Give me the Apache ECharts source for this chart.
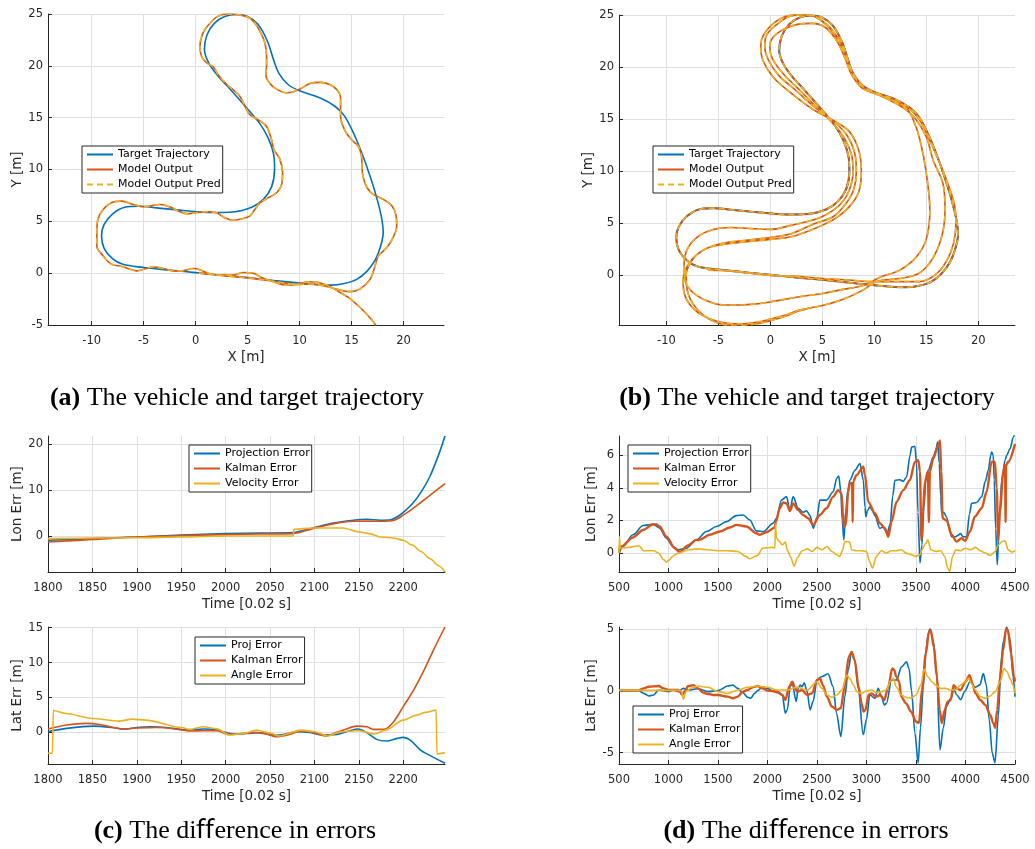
<!DOCTYPE html>
<html>
<head>
<meta charset="utf-8">
<script src="https://cdn.jsdelivr.net/npm/echarts@6/dist/echarts.min.js"></script>
<style>
  html, body { margin: 0; padding: 0; background: #fff; }
  #chart { width: 1035px; height: 849px; }
</style>
</head>
<body>
<div id="chart"></div>
<script>
// ---- tick values ----
const trajTicksX = [-10, -5, 0, 5, 10, 15, 20];
const trajTicksYA = [-5, 0, 5, 10, 15, 20, 25];
const trajTicksYB = [0, 5, 10, 15, 20, 25];
const timeTicksC = [1800, 1850, 1900, 1950, 2000, 2050, 2100, 2150, 2200];
const timeTicksD = [500, 1000, 1500, 2000, 2500, 3000, 3500, 4000, 4500];
const lonTicksC = [0, 10, 20];
const latTicksC = [0, 5, 10, 15];
const lonTicksD = [0, 2, 4, 6];
const latTicksD = [-5, 0, 5];

// ---- trajectories [x, y] in metres ----
const targetPath = [
  [-2.8,0.32],[0,0.05],[2.5,-0.2],[5,-0.42],[7.5,-0.7],[10,-0.96],[12,-1.12],[13,-1.15],[14.3,-1.0],
  [15.5,-0.6],[16.5,0.2],[17.3,1.3],[17.8,2.6],[18.05,3.9],[17.9,5.3],[17.5,7.0],[16.9,9.0],[16.1,11.3],
  [15.2,13.5],[14.3,15.2],[13.4,16.1],[12.0,16.9],[10.0,17.6],[8.9,18.2],[8.0,19.3],[7.5,20.6],[6.9,22.4],
  [6.0,24.0],[5.0,24.75],[3.95,24.95],[2.8,24.75],[1.8,24.1],[1.1,23.0],[0.85,21.6],[1.2,20.4],[2.0,19.2],
  [3.0,18.1],[4.6,16.3],[6.2,14.4],[7.0,13.0],[7.5,11.5],[7.6,10.0],[7.3,8.3],[6.5,7.1],[5.4,6.35],
  [3.6,5.9],[1.5,5.85],[-1.2,6.05],[-3.75,6.3],[-5.4,6.45],[-6.8,6.35],[-8.0,5.7],[-8.8,4.7],[-9.05,3.6],
  [-8.8,2.4],[-8.0,1.4],[-7.0,0.85],[-5.0,0.55],[-2.8,0.32]
];

const modelOutA = [
  [0.3,0.0],[2.5,-0.22],[5.0,-0.45],[7.0,-0.7],[8.5,-0.95],[9.8,-1.1],[11.0,-1.05],[12.3,-1.2],[13.6,-1.55],
  [14.85,-1.78],[15.8,-1.54],[16.8,-0.58],[17.26,0.7],[17.6,1.67],[18.4,2.47],[19.0,3.43],[19.35,4.55],
  [19.3,5.5],[18.9,6.47],[18.1,7.1],[17.1,7.6],[16.5,8.24],[16.1,9.36],[16.0,10.6],[15.95,11.4],[15.65,12.24],
  [15.0,12.9],[14.4,13.7],[13.95,15.1],[13.95,16.1],[13.95,16.9],[13.6,17.7],[12.9,18.2],[12.0,18.4],
  [11.0,18.3],[10.2,17.85],[9.4,17.5],[8.75,17.4],[7.8,17.75],[7.15,18.3],[6.77,19.1],[6.83,20.1],
  [6.83,20.9],[6.67,22.2],[6.3,23.1],[5.87,23.9],[5.2,24.6],[4.27,24.9],[3.0,25.0],[2.0,24.7],[1.4,24.1],
  [0.9,23.5],[0.58,22.8],[0.42,21.9],[0.58,20.9],[1.06,20.3],[1.7,19.9],[2.2,19.1],[3.0,18.2],[3.6,17.7],
  [4.27,17.05],[4.75,16.1],[5.2,15.3],[6.0,14.8],[6.8,14.2],[7.3,12.9],[7.55,11.9],[8.1,11.0],[8.37,9.7],
  [8.28,8.56],[7.8,7.76],[6.83,7.18],[6.2,6.8],[5.7,6.15],[5.2,5.5],[4.27,5.2],[3.6,5.1],[2.8,5.35],
  [2.0,5.83],[1.06,5.93],[0.1,5.83],[-0.87,5.74],[-1.67,6.0],[-2.5,6.4],[-3.4,6.63],[-4.4,6.47],[-5.0,6.4],
  [-6.0,6.63],[-7.1,6.95],[-8.1,6.8],[-8.9,6.15],[-9.4,5.2],[-9.5,3.9],[-9.5,2.6],[-8.9,1.67],[-8.1,0.87],
  [-7.1,0.64],[-6.3,0.38],[-5.7,0.22],[-5.0,0.38],[-4.07,0.6],[-3.1,0.45],[-2.15,0.22],[-1.35,0.22],
  [-0.22,0.45],[0.42,0.32],[1.2,0.0],[2.3,-0.19],[3.6,-0.19],[4.6,0.06],[5.55,0.0],[6.35,-0.42],[7.5,-0.83],
  [8.75,-1.15],[9.9,-1.06],[10.8,-0.83],[11.8,-0.9],[12.9,-1.28],[13.9,-1.86],[14.7,-2.34],[15.65,-3.14],
  [16.45,-3.94],[17.26,-4.9],[17.4,-5.3]
];
const modelPredA = modelOutA;

const modelOutB = [
  [-6.0,0.5],[-4.0,0.45],[-2.0,0.25],[0,0.05],[2.5,-0.2],[5,-0.42],[7.5,-0.7],[10,-0.96],[12,-1.12],[13,-1.15],
  [14.3,-1.0],[15.5,-0.6],[16.5,0.2],[17.3,1.3],[17.8,2.6],[18.05,3.9],[17.9,5.3],[17.5,7.0],[16.9,9.0],
  [16.1,11.3],[15.2,13.5],[14.3,15.2],[13.4,16.1],[12.0,16.9],[10.0,17.6],[8.9,18.2],[8.0,19.3],[7.5,20.6],
  [6.9,22.4],[6.0,24.0],[5.0,24.75],[3.95,24.95],[2.8,24.75],[1.8,24.1],[1.1,23.0],[0.85,21.6],[1.2,20.4],
  [2.0,19.2],[3.0,18.1],[4.6,16.3],[6.2,14.4],[7.0,13.0],[7.5,11.5],[7.6,10.0],[7.3,8.3],[6.5,7.1],[5.4,6.35],
  [3.6,5.9],[1.5,5.85],[-1.2,6.05],[-3.75,6.3],[-5.4,6.45],[-6.8,6.35],[-8.0,5.7],[-8.8,4.7],[-9.05,3.6],
  [-8.8,2.4],[-8.0,1.4],[-7.0,0.85],[-5.0,0.55],[-2.8,0.3],
  [0,0.0],[2.5,-0.1],[5,-0.3],[7.5,-0.45],[10,-0.6],[12.45,-0.6],[14.3,-0.6],[15.8,0.0],[16.9,1.3],[17.6,3.0],
  [17.85,5.0],[17.7,6.8],[17.0,9.0],[16.2,11.0],[15.4,12.8],[14.5,14.7],[13.6,15.8],[12.2,16.6],[10.2,17.4],
  [8.8,18.0],[7.8,19.3],[7.2,20.8],[6.4,22.5],[5.3,23.8],[4.0,24.2],[2.6,24.1],[1.2,23.6],[0.2,22.8],
  [-0.06,22.0],[0.2,20.8],[1.2,19.4],[2.6,18.0],[4.2,16.4],[6.0,14.6],[7.1,13.2],[7.8,11.6],[7.95,10.0],
  [7.6,8.2],[6.8,6.9],[5.5,5.9],[4.27,5.36],[2.0,4.8],[0,4.41],[-2.0,4.5],[-3.75,4.6],[-5.5,4.4],[-7.0,3.7],
  [-8.0,2.5],[-8.3,1.0],[-8.2,-0.5],[-7.5,-1.6],[-6.0,-2.5],[-4.5,-2.85],[-3.0,-2.85],[-1.0,-2.7],[0,-2.55],
  [2.8,-2.06],[5.0,-1.75],[7.0,-1.35],[9.0,-0.95],[10.5,-0.2],[12.45,0.5],[14.06,1.78],[15.0,3.5],[15.34,6.26],
  [15.0,9.78],[14.4,12.97],[13.76,14.9],[13.2,15.9],[12.0,16.7],[10.0,17.5],[8.8,18.3],[7.9,19.5],[7.3,21.0],
  [6.5,22.8],[5.2,24.3],[3.6,25.0],[2.0,24.9],[0.5,24.0],[-0.4,23.0],[-0.54,22.0],[-0.2,20.7],[0.8,19.2],
  [2.4,17.8],[4.2,16.2],[6.2,14.7],[7.4,13.4],[8.1,11.8],[8.27,10.0],[8.0,8.2],[7.2,6.8],[6.0,5.6],[4.27,4.98],
  [2.0,4.0],[0,3.64],[-2.5,3.35],[-4.7,3.06],[-6.5,2.4],[-7.8,1.2],[-8.4,-0.5],[-8.2,-2.0],[-7.3,-3.3],
  [-5.8,-4.2],[-4.2,-4.6],[-2.8,-4.65],[-1.0,-4.45],[0,-4.2],[1.5,-3.8],[2.8,-3.34],[5.0,-2.9],[7.0,-2.3],
  [8.9,-1.42],[10.2,-0.6],[12.45,-0.3],[14.3,0.2],[15.6,1.6],[16.5,3.8],[16.8,6.26],[16.6,8.8],[15.66,11.05],
  [15.0,13.3],[13.9,15.1],[12.6,16.2],[10.5,17.3],[9.0,18.0],[8.0,19.2],[7.3,20.8],[6.4,22.8],[5.1,24.3],
  [3.5,25.05],[1.8,24.95],[0.3,24.2],[-0.7,23.0],[-0.93,22.0],[-0.7,20.6],[0.3,19.0],[2.0,17.5],[4.0,16.0],
  [6.0,14.9],[7.6,13.8],[8.5,12.0],[8.75,10.0],[8.5,8.0],[7.6,6.6],[6.3,5.5],[4.27,4.5],[2.0,3.7],[0,3.45],
  [-2.5,3.2],[-4.7,2.95],[-6.3,2.5],[-7.5,1.5],[-8.1,0.0],[-7.9,-1.8],[-7.0,-3.3],[-5.5,-4.4],[-3.8,-4.8],
  [-2.8,-4.8],[-1.0,-4.6],[0,-4.35],[1.5,-3.9],[2.8,-3.4],[4.0,-3.1]
];
const modelPredB = modelOutB;

// ---- errors over time [t, err] ----
const lonProjC = [[1800,-0.87],[1850,-0.5],[1900,-0.15],[1950,0.25],[2000,0.58],[2040,0.7],[2076,0.8],[2098,1.8],[2121,2.9],[2144,3.5],[2159,3.7],[2174,3.5],[2186,3.6],[2193,4.2],[2200,5.2],[2210,7.0],[2220,9.6],[2230,13.0],[2240,17.8],[2247,21.8]];
const lonKalC = [[1800,-1.23],[1850,-0.7],[1900,-0.15],[1950,0.15],[2000,0.36],[2040,0.5],[2076,0.58],[2098,1.67],[2121,2.7],[2144,3.26],[2159,3.3],[2174,3.26],[2190,3.5],[2200,4.6],[2210,5.9],[2220,7.4],[2230,8.9],[2240,10.4],[2247,11.45]];
const lonVelC = [[1800,-0.5],[1900,-0.3],[1950,-0.15],[2000,0.07],[2076,0.07],[2077,1.52],[2098,1.8],[2132,1.8],[2151,0.94],[2162,0.58],[2174,-0.15],[2189,-0.36],[2200,-0.87],[2210,-1.9],[2220,-3.3],[2230,-4.86],[2240,-6.4],[2247,-7.75]];

const latProjC = [[1800,0.1],[1821,0.57],[1851,0.9],[1873,0.7],[1885,0.48],[1900,0.7],[1915,0.8],[1933,0.7],[1956,0.33],[1975,0.48],[1986,0.45],[2000,0.0],[2009,-0.24],[2024,-0.14],[2039,-0.05],[2054,-0.38],[2065,-0.3],[2080,0.1],[2095,0.0],[2110,-0.38],[2125,-0.29],[2140,0.24],[2149,0.48],[2159,-0.05],[2170,-1.0],[2181,-1.24],[2193,-0.86],[2200,-0.71],[2208,-1.1],[2219,-2.5],[2230,-3.3],[2247,-4.43]];
const latKalC = [[1800,0.48],[1821,1.05],[1843,1.29],[1858,1.14],[1873,0.71],[1885,0.48],[1900,0.62],[1922,0.7],[1945,0.48],[1960,0.19],[1975,0.24],[1991,0.24],[2002,-0.29],[2017,-0.24],[2032,0.0],[2046,-0.24],[2057,-0.62],[2072,-0.29],[2084,0.19],[2099,0.0],[2112,-0.52],[2125,0.0],[2136,0.48],[2147,0.9],[2159,0.8],[2166,0.43],[2178,0.43],[2189,1.5],[2200,3.7],[2211,5.9],[2223,8.8],[2234,11.8],[2247,15.1]];
const latAngC = [[1800,-3.0],[1805,-3.0],[1806,3.14],[1820,2.7],[1850,2.0],[1880,1.62],[1895,1.9],[1910,1.76],[1950,0.71],[1960,0.43],[1975,0.81],[1990,0.5],[2005,-0.38],[2020,-0.14],[2035,0.33],[2050,-0.1],[2060,-0.52],[2085,0.33],[2100,0.1],[2115,-0.52],[2130,0.1],[2150,0.24],[2168,-0.24],[2180,0.33],[2200,1.76],[2215,2.48],[2225,2.86],[2237,3.19],[2238,-3.1],[2247,-2.9]];

const lonProjD = [[500,0.0],[540,0.4],[641,1.12],[743,1.69],[844,1.77],[911,1.53],[978,0.92],[1046,0.4],[1096,0.2],[1181,0.3],[1282,0.81],[1383,1.32],[1484,1.63],[1585,1.93],[1686,2.3],[1754,2.34],[1821,2.03],[1888,1.36],[1956,1.32],[2057,1.83],[2091,2.14],[2141,3.25],[2192,3.46],[2226,2.64],[2259,3.46],[2310,2.75],[2360,2.5],[2394,2.6],[2430,2.3],[2462,1.52],[2500,2.2],[2529,3.25],[2597,3.25],[2664,3.76],[2700,4.6],[2720,4.72],[2740,3.8],[2755,2.0],[2771,0.81],[2790,2.5],[2810,3.8],[2832,4.47],[2883,5.08],[2934,5.49],[2968,4.47],[2985,2.8],[2994,2.23],[3010,2.6],[3034,2.84],[3060,2.6],[3085,2.3],[3135,1.52],[3169,1.6],[3209,1.22],[3240,1.8],[3265,3.5],[3287,4.47],[3337,4.5],[3370,4.4],[3405,4.67],[3440,6.0],[3456,6.5],[3489,6.55],[3505,5.5],[3520,2.5],[3540,-0.61],[3560,0.5],[3580,2.8],[3600,4.5],[3624,5.08],[3675,5.9],[3700,6.3],[3719,6.81],[3735,5.5],[3750,3.5],[3759,2.44],[3780,2.5],[3810,2.2],[3835,1.6],[3860,1.0],[3900,1.0],[3927,1.1],[3950,1.2],[3975,1.0],[4012,1.01],[4040,2.4],[4062,3.05],[4113,3.1],[4163,3.45],[4200,4.4],[4230,5.08],[4255,6.0],[4264,6.2],[4280,6.0],[4290,4.5],[4305,1.5],[4321,-0.71],[4335,1.0],[4350,3.0],[4366,4.47],[4400,5.7],[4416,6.0],[4450,6.4],[4483,7.1],[4500,7.4]];
const lonKalD = [[500,0.0],[510,0.4],[523,0.4],[641,0.96],[743,1.42],[844,1.77],[880,1.75],[911,1.63],[978,1.02],[1063,0.3],[1113,0.06],[1197,0.47],[1282,0.81],[1300,0.8],[1315,0.81],[1416,1.12],[1518,1.32],[1619,1.57],[1686,1.73],[1787,1.63],[1888,1.22],[1922,1.12],[1989,1.28],[2074,1.57],[2084,1.93],[2124,2.75],[2158,3.11],[2192,3.05],[2226,2.58],[2259,3.05],[2310,2.64],[2360,2.34],[2411,2.14],[2461,1.73],[2529,2.34],[2596,2.75],[2663,3.46],[2714,3.86],[2748,3.66],[2762,2.5],[2771,1.6],[2791,1.73],[2815,3.76],[2832,4.27],[2855,4.3],[2860,1.9],[2866,4.4],[2899,4.78],[2967,5.29],[2984,4.8],[3017,3.15],[3085,2.44],[3135,1.83],[3186,1.53],[3220,1.0],[3253,1.93],[3304,3.15],[3371,3.86],[3438,4.47],[3489,5.59],[3523,5.69],[3540,5.0],[3555,0.75],[3570,2.5],[3590,4.37],[3620,5.0],[3630,1.9],[3640,5.0],[3674,5.8],[3725,6.6],[3742,6.9],[3755,5.0],[3769,2.14],[3809,2.0],[3860,1.12],[3910,0.7],[3961,0.92],[3995,0.75],[4045,1.32],[4095,2.24],[4163,2.75],[4213,3.76],[4264,5.59],[4297,5.59],[4315,4.0],[4331,0.75],[4348,2.6],[4382,5.0],[4400,5.4],[4405,1.9],[4410,5.4],[4432,5.6],[4500,6.7]];
const lonVelD = [[500,0.0],[505,1.0],[512,0.3],[600,0.35],[700,0.45],[750,0.14],[850,0.14],[900,0.0],[950,-0.4],[980,-0.55],[1000,-0.45],[1050,-0.16],[1100,0.0],[1200,0.2],[1300,0.26],[1400,0.2],[1500,0.14],[1600,0.14],[1700,0.1],[1780,-0.2],[1820,-0.35],[1900,-0.14],[1950,0.3],[2050,0.35],[2075,0.3],[2080,1.8],[2090,0.92],[2120,0.71],[2150,0.5],[2180,0.67],[2200,0.2],[2230,-0.2],[2270,-0.81],[2300,-0.3],[2350,0.14],[2400,0.26],[2450,0.1],[2500,0.35],[2550,0.2],[2600,0.4],[2650,0.1],[2700,-0.1],[2730,-0.2],[2760,0.2],[2780,0.71],[2800,0.7],[2830,0.68],[2850,0.2],[2900,0.14],[2950,0.14],[3000,0.1],[3030,-0.5],[3060,-0.92],[3100,-0.2],[3150,0.14],[3200,0.0],[3250,0.14],[3300,0.14],[3350,0.2],[3400,0.0],[3450,-0.1],[3500,-0.2],[3540,-0.1],[3560,0.2],[3600,0.6],[3620,0.81],[3650,0.2],[3700,0.1],[3750,0.14],[3790,-0.2],[3820,-0.92],[3840,-1.12],[3870,-0.2],[3900,0.2],[3950,0.14],[4000,0.3],[4050,0.2],[4100,0.35],[4150,0.14],[4200,0.0],[4250,-0.14],[4300,0.1],[4330,0.5],[4370,0.71],[4400,0.75],[4430,0.2],[4470,0.06],[4500,0.14]];

const latProjD = [[500,0.0],[700,0.02],[750,-0.19],[800,-0.4],[850,-0.32],[900,0.08],[1000,-0.05],[1050,0.08],[1100,-0.05],[1150,0.21],[1200,0.08],[1300,0.18],[1400,-0.05],[1500,0.03],[1600,0.4],[1650,0.48],[1700,0.21],[1750,-0.13],[1800,-0.51],[1830,-0.59],[1870,-0.19],[1900,0.03],[1950,0.35],[2000,0.21],[2050,0.0],[2100,-0.13],[2150,-0.32],[2180,-1.8],[2200,-1.53],[2230,0.35],[2250,0.62],[2290,-0.86],[2310,0.21],[2330,0.48],[2350,0.35],[2370,0.67],[2400,-0.05],[2430,-1.53],[2460,-0.86],[2500,0.89],[2545,1.15],[2612,1.4],[2663,0.35],[2697,-1.8],[2741,-3.69],[2781,-0.5],[2815,1.69],[2849,3.17],[2883,2.5],[2916,0.2],[2967,-3.55],[3000,-2.3],[3034,-0.3],[3085,-0.6],[3118,0.21],[3152,-0.5],[3180,-1.13],[3202,-1.0],[3253,0.9],[3303,0.89],[3354,1.96],[3404,2.36],[3430,1.8],[3455,0.0],[3489,-3.41],[3522,-5.83],[3545,-3.0],[3573,0.3],[3600,3.3],[3624,4.65],[3641,5.05],[3674,4.1],[3708,1.7],[3742,-4.76],[3776,-3.0],[3809,-1.2],[3860,-0.5],[3880,0.2],[3910,-0.3],[3951,-0.7],[3995,0.0],[4045,0.75],[4096,0.3],[4146,0.5],[4180,1.42],[4210,0.5],[4240,-2.34],[4270,-5.03],[4298,-5.83],[4332,-2.0],[4360,2.5],[4382,4.0],[4416,5.19],[4450,4.2],[4480,1.16],[4500,-0.46]];
const latKalD = [[500,0.05],[700,0.05],[750,0.21],[800,0.35],[900,0.4],[950,0.21],[1000,0.08],[1100,0.08],[1140,-0.32],[1160,-0.05],[1200,0.4],[1250,0.48],[1300,0.21],[1350,-0.13],[1400,-0.24],[1450,-0.32],[1500,-0.32],[1600,-0.46],[1650,-0.59],[1700,-0.46],[1750,-0.05],[1800,0.08],[1850,0.3],[1900,0.4],[1950,0.21],[2000,0.03],[2100,-0.05],[2150,-0.32],[2180,-0.73],[2220,0.35],[2250,0.75],[2280,0.21],[2300,-0.05],[2350,0.08],[2400,-0.32],[2450,-0.19],[2500,0.89],[2530,1.02],[2560,0.48],[2600,-0.46],[2650,-1.26],[2700,-1.53],[2740,-1.4],[2780,0.35],[2820,2.77],[2850,3.17],[2880,2.5],[2920,0.35],[2950,-1.0],[2970,-1.67],[2990,-1.53],[3020,-0.32],[3050,-0.19],[3100,-0.46],[3140,-0.32],[3180,-0.73],[3220,0.35],[3260,1.83],[3280,1.7],[3300,1.16],[3330,0.75],[3350,-0.46],[3400,-1.0],[3450,-1.67],[3500,-2.47],[3530,-2.6],[3560,0.08],[3600,3.04],[3630,4.78],[3650,4.92],[3680,3.58],[3710,1.16],[3740,-1.53],[3760,-2.6],[3790,-1.53],[3820,-0.86],[3850,-0.73],[3880,0.48],[3910,0.21],[3950,0.08],[4000,0.75],[4040,1.29],[4070,0.62],[4100,-0.19],[4150,-0.73],[4200,-1.13],[4250,-1.94],[4280,-2.6],[4300,-3.0],[4320,-1.53],[4350,1.16],[4380,3.3],[4410,5.05],[4430,4.92],[4460,3.04],[4490,1.16],[4500,0.75]];
const latAngD = [[500,0.05],[1100,0.05],[1130,0.0],[1150,-0.67],[1180,0.0],[1250,0.3],[1300,0.4],[1400,0.3],[1500,-0.05],[1600,-0.19],[1700,0.08],[1800,0.3],[1900,0.4],[2000,0.3],[2100,0.08],[2200,0.08],[2300,0.3],[2400,0.08],[2500,0.75],[2550,0.21],[2600,-0.32],[2650,-0.51],[2700,-0.32],[2750,0.08],[2800,1.29],[2830,1.02],[2870,0.48],[2900,-0.05],[2950,-0.19],[3000,0.0],[3050,0.08],[3100,-0.13],[3150,-0.05],[3200,0.08],[3250,0.89],[3270,1.02],[3300,0.35],[3350,-0.32],[3400,-0.51],[3450,-0.59],[3500,-0.32],[3550,0.48],[3580,1.75],[3620,1.16],[3660,0.75],[3700,0.48],[3750,0.21],[3800,0.21],[3850,0.08],[3900,0.08],[3950,0.48],[4000,0.75],[4030,1.02],[4060,0.62],[4100,0.08],[4150,-0.46],[4200,-0.59],[4250,-0.4],[4300,-0.05],[4350,0.75],[4390,1.83],[4420,1.56],[4450,1.02],[4480,0.48],[4500,-0.19]];

// ---- styling ----
const BLUE = '#0072BD', RED = '#D95319', YELLOW = '#EDB120';
const INK = '#262626', GRID = '#dfdfdf';
const SANS = 'DejaVu Sans', SERIF = 'Liberation Serif';

function makeAxis(gridIndex, min, max, ticks, name, isY, nameGap) {
  return {
    type: 'value', gridIndex, min, max, name,
    nameLocation: 'middle', nameGap,
    nameTextStyle: { fontFamily: SANS, fontSize: 13.5, color: INK },
    axisLine: { show: true, onZero: false, lineStyle: { color: INK, width: 1 } },
    axisTick: { show: true, inside: true, length: 4, customValues: ticks, lineStyle: { color: INK } },
    axisLabel: {
      customValues: ticks, margin: isY ? 5 : 10,
      fontFamily: SANS, fontSize: 11.5, color: INK,
      formatter: v => String(v)
    },
    splitLine: { show: true, lineStyle: { color: GRID, width: 1 } }
  };
}

function line(name, data, gi, color, width, extra) {
  return Object.assign({
    type: 'line', name, data, xAxisIndex: gi, yAxisIndex: gi,
    symbol: 'none', smooth: 0.35, clip: true,
    lineStyle: { color, width }, itemStyle: { color },
    emphasis: { disabled: true }, silent: true
  }, extra || {});
}

function legendAt(left, top, names) {
  return {
    data: names, left, top, orient: 'vertical', selectedMode: false,
    backgroundColor: '#fff', borderColor: INK, borderWidth: 1, borderRadius: 0,
    padding: [3, 2, 3, 4], itemGap: 4, itemWidth: 26, itemHeight: 11,
    itemStyle: { opacity: 0, borderWidth: 0 },
    textStyle: { fontFamily: SANS, fontSize: 11, color: '#000' }
  };
}

function caption(cx, cy, tag, text) {
  return {
    type: 'text', x: cx, y: cy, silent: true,
    style: {
      text: '{b|' + tag + '}{n| ' + text + '}',
      align: 'center', verticalAlign: 'middle',
      textAlign: 'center', textVerticalAlign: 'middle',
      rich: {
        b: { fontFamily: SERIF, fontSize: 26, fontWeight: 'bold', fill: '#000', color: '#000' },
        n: { fontFamily: SERIF, fontSize: 26, fill: '#000', color: '#000' }
      }
    }
  };
}

const trajNames = ['Target Trajectory', 'Model Output', 'Model Output Pred'];
const tsMono = { smooth: 0.3, smoothMonotone: 'x' };   // series with sudden steps
const tsSoft = { smooth: 0.3 };                         // smoothly varying series
const dashed = { lineStyle: { color: YELLOW, width: 1.6, type: [6, 4] } };

const option = {
  animation: false,
  backgroundColor: '#fff',
  grid: [
    { left: 48, top: 14, width: 396, height: 311 },
    { left: 619, top: 15, width: 396, height: 310 },
    { left: 48, top: 436, width: 397, height: 136 },
    { left: 48, top: 627, width: 397, height: 137 },
    { left: 619, top: 436, width: 396, height: 136 },
    { left: 619, top: 627, width: 396, height: 137 }
  ],
  xAxis: [
    makeAxis(0, -14.2, 23.9, trajTicksX, 'X [m]', false, 25),
    makeAxis(1, -14.56, 23.53, trajTicksX, 'X [m]', false, 25),
    makeAxis(2, 1800, 2247, timeTicksC, 'Time [0.02 s]', false, 25),
    makeAxis(3, 1800, 2247, timeTicksC, 'Time [0.02 s]', false, 25),
    makeAxis(4, 500, 4500, timeTicksD, 'Time [0.02 s]', false, 25),
    makeAxis(5, 500, 4500, timeTicksD, 'Time [0.02 s]', false, 25)
  ],
  yAxis: [
    makeAxis(0, -5, 25, trajTicksYA, 'Y [m]', true, 21),
    makeAxis(1, -4.77, 25, trajTicksYB, 'Y [m]', true, 21),
    makeAxis(2, -7.76, 21.8, lonTicksC, 'Lon Err [m]', true, 21),
    makeAxis(3, -4.53, 15.1, latTicksC, 'Lat Err [m]', true, 21),
    makeAxis(4, -1.16, 7.18, lonTicksD, 'Lon Err [m]', true, 21),
    makeAxis(5, -5.92, 5.19, latTicksD, 'Lat Err [m]', true, 21)
  ],
  legend: [
    legendAt(82, 146, trajNames),
    legendAt(653, 146, trajNames),
    legendAt(189, 445, ['Projection Error', 'Kalman Error', 'Velocity Error']),
    legendAt(195, 637, ['Proj Error', 'Kalman Error', 'Angle Error']),
    legendAt(628, 445, ['Projection Error', 'Kalman Error', 'Velocity Error']),
    legendAt(633, 706, ['Proj Error', 'Kalman Error', 'Angle Error'])
  ],
  series: [
    // (a)
    line('Target Trajectory', targetPath, 0, BLUE, 1.6),
    line('Model Output', modelOutA, 0, RED, 1.6),
    line('Model Output Pred', modelPredA, 0, YELLOW, 1.6, dashed),
    // (b)
    line('Target Trajectory', targetPath, 1, BLUE, 2),
    line('Model Output', modelOutB, 1, RED, 1.6),
    line('Model Output Pred', modelPredB, 1, YELLOW, 1.6, dashed),
    // (c) longitudinal
    line('Projection Error', lonProjC, 2, BLUE, 1.6, tsSoft),
    line('Kalman Error', lonKalC, 2, RED, 1.6, tsSoft),
    line('Velocity Error', lonVelC, 2, YELLOW, 1.6, tsMono),
    // (c) lateral
    line('Proj Error', latProjC, 3, BLUE, 1.6, tsSoft),
    line('Kalman Error', latKalC, 3, RED, 1.6, tsSoft),
    line('Angle Error', latAngC, 3, YELLOW, 1.6, tsMono),
    // (d) longitudinal
    line('Projection Error', lonProjD, 4, BLUE, 1.6, tsMono),
    line('Kalman Error', lonKalD, 4, RED, 2.4, tsMono),
    line('Velocity Error', lonVelD, 4, YELLOW, 1.6, tsMono),
    // (d) lateral
    line('Proj Error', latProjD, 5, BLUE, 1.6, tsMono),
    line('Kalman Error', latKalD, 5, RED, 2.4, tsMono),
    line('Angle Error', latAngD, 5, YELLOW, 1.6, tsMono)
  ],
  graphic: [
    caption(237, 398, '(a)', 'The vehicle and target trajectory'),
    caption(807, 398, '(b)', 'The vehicle and target trajectory'),
    caption(235, 831, '(c)', 'The diﬀerence in errors'),
    caption(806, 831, '(d)', 'The diﬀerence in errors')
  ]
};

const chart = echarts.init(document.getElementById('chart'), null, { renderer: 'canvas' });
chart.setOption(option);
</script>
</body>
</html>
